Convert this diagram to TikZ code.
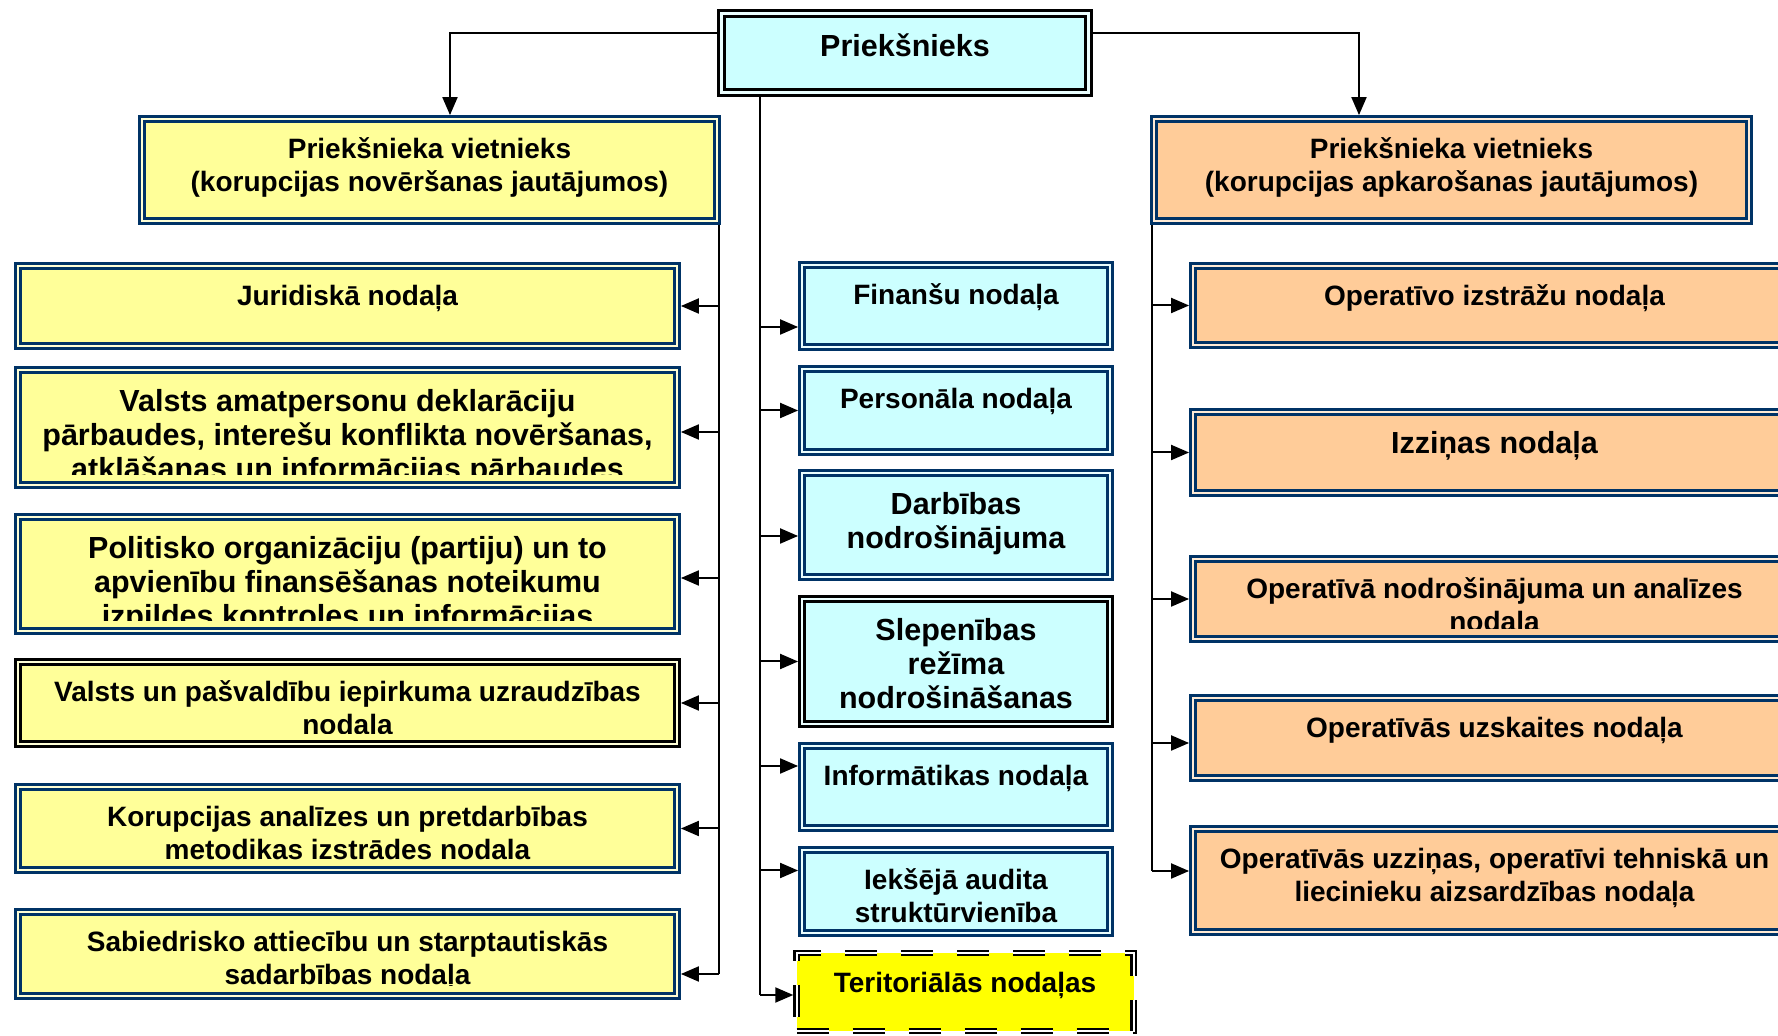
\documentclass[tikz,border=0pt]{standalone}
\usepackage{fontspec}
\setmainfont{Liberation Sans}
\usetikzlibrary{arrows.meta}

\definecolor{navy}{HTML}{003366}
\definecolor{paleyellow}{HTML}{FFFF99}
\definecolor{palecyan}{HTML}{CCFFFF}
\definecolor{paleorange}{HTML}{FFCC99}
\definecolor{brightyellow}{HTML}{FFFF00}

\newcommand{\smallfont}{\fontsize{2.8mm}{3.3mm}\selectfont\bfseries}
\newcommand{\largefont}{\fontsize{3.05mm}{3.4mm}\selectfont\bfseries}

\tikzset{
  box/.style={rectangle, draw=navy, line width=0.25mm, double distance=0.28mm,
    inner sep=0pt, outer sep=0.39mm},
  yelbox/.style={box, fill=paleyellow, double=paleyellow!40!white},
  cyanbox/.style={box, fill=palecyan, double=palecyan!40!white},
  orbox/.style={box, fill=paleorange, double=paleorange!40!white},
  blackbox/.style={draw=black},
  terbox/.style={rectangle, draw=black, double=white, fill=brightyellow,
    line width=0.22mm, double distance=0.2mm, dash pattern=on 3.2mm off 2.4mm,
    inner sep=0pt, outer sep=0.32mm},
  boxtext/.style={anchor=north, align=center, inner sep=0pt, minimum width=0pt,
    minimum height=0pt, draw=none, fill=none},
  txt/.style={path picture={
    \clip (path picture bounding box.north west) rectangle ([yshift=1mm]path picture bounding box.south east);
    \node[boxtext, font=\smallfont]
    at ([yshift=-0.8mm]path picture bounding box.north) {\rule{0pt}{1em}#1};}},
  bigtxt/.style={path picture={
    \clip (path picture bounding box.north west) rectangle ([yshift=1mm]path picture bounding box.south east);
    \node[boxtext, font=\largefont]
    at ([yshift=-0.75mm]path picture bounding box.north) {\rule{0pt}{1em}#1};}},
  wire/.style={line width=0.2mm},
  arr/.style={line width=0.2mm, -{Triangle[length=1.8mm, width=1.5mm]}}
}

\begin{document}
\begin{tikzpicture}[x=0.1mm, y=-0.1mm]
\useasboundingbox (0,0) rectangle (1778,1036);

%% head and deputies
\node[cyanbox, blackbox, line width=0.33mm, double distance=0.25mm, outer sep=0.455mm,
  minimum width=36.7mm, minimum height=7.9mm, bigtxt={Priekšnieks}] (chief) at (905,53) {};
\node[yelbox, minimum width=57.5mm, minimum height=10.2mm,
  txt={Priekšnieka vietnieks\\(korupcijas novēršanas jautājumos)}] (ldep) at (429.5,170) {};
\node[orbox, minimum width=59.5mm, minimum height=10.2mm,
  txt={Priekšnieka vietnieks\\(korupcijas apkarošanas jautājumos)}] (rdep) at (1451.5,170) {};

%% left column
\node[yelbox, minimum width=65.9mm, minimum height=8mm,
  txt={Juridiskā nodaļa}] (lb1) at (347.5,306) {};
\node[yelbox, minimum width=65.9mm, minimum height=11.5mm,
  bigtxt={Valsts amatpersonu deklarāciju\\pārbaudes, interešu konflikta novēršanas,\\atklāšanas un informācijas pārbaudes}] (lb2) at (347.5,427.5) {};
\node[yelbox, minimum width=65.9mm, minimum height=11.4mm,
  bigtxt={Politisko organizāciju (partiju) un to\\apvienību finansēšanas noteikumu\\izpildes kontroles un informācijas}] (lb3) at (347.5,574) {};
\node[yelbox, blackbox, minimum width=65.9mm, minimum height=8.2mm,
  txt={Valsts un pašvaldību iepirkuma uzraudzības\\nodaļa}] (lb4) at (347.5,703) {};
\node[yelbox, minimum width=65.9mm, minimum height=8.3mm,
  txt={Korupcijas analīzes un pretdarbības\\metodikas izstrādes nodaļa}] (lb5) at (347.5,828.5) {};
\node[yelbox, minimum width=65.9mm, minimum height=8.4mm,
  txt={Sabiedrisko attiecību un starptautiskās\\sadarbības nodaļa}] (lb6) at (347.5,954) {};

%% middle column
\node[cyanbox, minimum width=30.8mm, minimum height=8.2mm,
  txt={Finanšu nodaļa}] (mb1) at (956,306) {};
\node[cyanbox, minimum width=30.8mm, minimum height=8.3mm,
  txt={Personāla nodaļa}] (mb2) at (956,410.5) {};
\node[cyanbox, minimum width=30.8mm, minimum height=10.4mm,
  bigtxt={Darbības\\nodrošinājuma}] (mb3) at (956,525) {};
\node[cyanbox, blackbox, minimum width=30.8mm, minimum height=12.5mm,
  bigtxt={Slepenības\\režīma\\nodrošināšanas}] (mb4) at (956,661.5) {};
\node[cyanbox, minimum width=30.8mm, minimum height=8.2mm,
  txt={Informātikas nodaļa}] (mb5) at (956,787) {};
\node[cyanbox, minimum width=30.8mm, minimum height=8.3mm,
  txt={Iekšējā audita\\struktūrvienība}] (mb6) at (956,891.5) {};
\node[terbox, minimum width=33.7mm, minimum height=7.8mm,
  txt={Teritoriālās nodaļas}] (mb7) at (965,992) {};

%% right column
\node[orbox, minimum width=60.3mm, minimum height=7.9mm,
  txt={Operatīvo izstrāžu nodaļa}] (rb1) at (1494.5,305.5) {};
\node[orbox, minimum width=60.3mm, minimum height=8.1mm,
  bigtxt={Izziņas nodaļa}] (rb2) at (1494.5,452.5) {};
\node[orbox, minimum width=60.3mm, minimum height=8mm,
  txt={Operatīvā nodrošinājuma un analīzes\\nodaļa}] (rb3) at (1494.5,599) {};
\node[orbox, minimum width=60.3mm, minimum height=8mm,
  txt={Operatīvās uzskaites nodaļa}] (rb4) at (1494.5,738) {};
\node[orbox, minimum width=60.3mm, minimum height=10.3mm,
  txt={Operatīvās uzziņas, operatīvi tehniskā un\\liecinieku aizsardzības nodaļa}] (rb5) at (1494.5,880.5) {};

%% connectors from the head
\draw[arr] ([yshift=2mm]chief.west) -| ([xshift=2.05mm]ldep.north);
\draw[arr] ([yshift=2mm]chief.east) -| ([xshift=-9.25mm]rdep.north);

\coordinate (lt) at ([xshift=-0.2mm]ldep.south east);
\coordinate (mt) at ([xshift=4.3mm]chief.south west);
\coordinate (rt) at ([xshift=0.2mm]rdep.south west);

%% left trunk
\draw[wire] (lt) -- ([yshift=-2mm]lb6.east -| lt);
\draw[arr] (lb1.east -| lt) -- (lb1.east);
\draw[arr] ([yshift=-0.45mm]lb2.east -| lt) -- ([yshift=-0.45mm]lb2.east);
\draw[arr] ([yshift=-0.4mm]lb3.east -| lt) -- ([yshift=-0.4mm]lb3.east);
\draw[arr] (lb4.east -| lt) -- (lb4.east);
\draw[arr] (lb5.east -| lt) -- (lb5.east);
\draw[arr] ([yshift=-2mm]lb6.east -| lt) -- ([yshift=-2mm]lb6.east);

%% middle trunk
\draw[wire] (mt) -- ([yshift=-0.3mm]mb7.west -| mt);
\draw[arr] ([yshift=-2.1mm]mb1.west -| mt) -- ([yshift=-2.1mm]mb1.west);
\draw[arr] (mb2.west -| mt) -- (mb2.west);
\draw[arr] ([yshift=-1.1mm]mb3.west -| mt) -- ([yshift=-1.1mm]mb3.west);
\draw[arr] (mb4.west -| mt) -- (mb4.west);
\draw[arr] ([yshift=2.1mm]mb5.west -| mt) -- ([yshift=2.1mm]mb5.west);
\draw[arr] ([yshift=2.1mm]mb6.west -| mt) -- ([yshift=2.1mm]mb6.west);
\draw[arr] ([yshift=-0.3mm]mb7.west -| mt) -- ([yshift=-0.3mm]mb7.west);

%% right trunk
\draw[wire] (rt) -- ([yshift=0.95mm]rb5.west -| rt);
\draw[arr] (rb1.west -| rt) -- (rb1.west);
\draw[arr] (rb2.west -| rt) -- (rb2.west);
\draw[arr] (rb3.west -| rt) -- (rb3.west);
\draw[arr] ([yshift=-0.5mm]rb4.west -| rt) -- ([yshift=-0.5mm]rb4.west);
\draw[arr] ([yshift=0.95mm]rb5.west -| rt) -- ([yshift=0.95mm]rb5.west);

\end{tikzpicture}
\end{document}
